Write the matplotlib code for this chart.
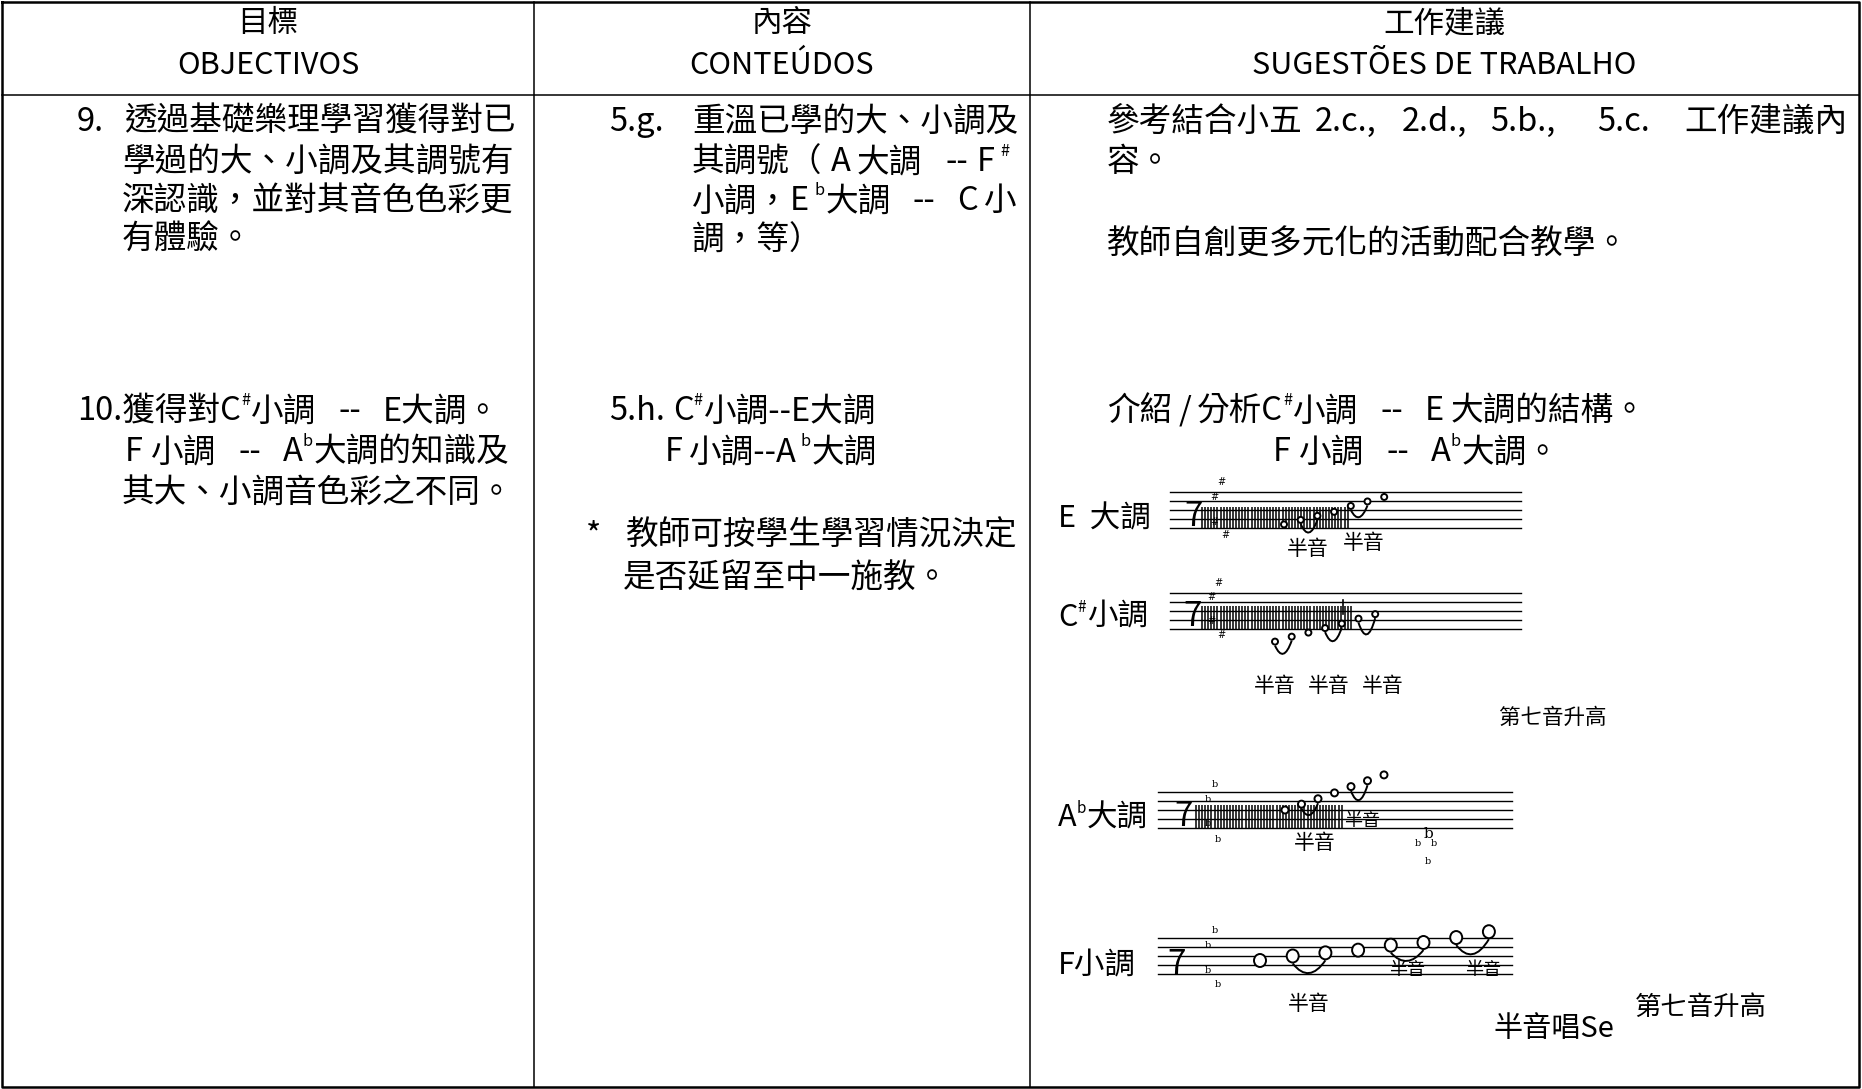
import numpy as np
import matplotlib as mpl
mpl.use('Agg')
import matplotlib.pyplot as plt
from matplotlib.path import Path
from matplotlib.patches import PathPatch, Ellipse

plt.rcParams['font.family'] = ['Noto Sans CJK TC', 'DejaVu Sans']

W, H = 1862, 1089

# ---- text content ----
headers_zh = ['目標', '內容', '工作建議']
headers_pt = ['OBJECTIVOS', 'CONTEÚDOS', 'SUGESTÕES DE TRABALHO']

# parts: plain str, '^x' = superscript, number = gap in px
col1_text = [
    ['9.'], ['透過基礎樂理學習獲得對已'],
    ['學過的大、小調及其調號有'],
    ['深認識，並對其音色色彩更'],
    ['有體驗。'],
    ['10.獲得對C', '^#', '小調', 22, '--', 22, 'E大調。'],
    ['F', 8, '小調', 22, '--', 22, 'A', '^b', '大調的知識及'],
    ['其大、小調音色彩之不同。'],
]
col1_pos = [(77, 122), (124, 122), (122, 162), (122, 201), (122, 240),
            (77, 411), (125, 452), (122, 493)]

col2_text = [
    ['5.g.'], ['重溫已學的大、小調及'],
    ['其調號（', 8, 'A', 6, '大調', 24, '--', 8, 'F', 6, '^#'],
    ['小調，', 'E', 5, '^b', '大調', 22, '--', 22, 'C', 6, '小'],
    ['調，等）'],
    ['5.h.', 8, 'C', '^#', '小調--E大調'],
    ['F', 6, '小調--A', 4, '^b', '大調'],
    ['*'], ['教師可按學生學習情況決定'],
    ['是否延留至中一施教。'],
]
col2_pos = [(609, 122), (692, 122), (692, 162), (692, 201), (692, 240),
            (609, 411), (665, 452), (586, 535), (626, 535), (623, 578)]

col3_text = [
    ['參考結合小五'], ['2.c.,'], ['2.d.,'], ['5.b.,'], ['5.c.'], ['工作建議內'],
    ['容。'],
    ['教師自創更多元化的活動配合教學。'],
    ['介紹', 6, '/', 6, '分析C', '^#', '小調', 22, '--', 22, 'E', 6, '大調的結構。'],
    ['F', 8, '小調', 22, '--', 22, 'A', '^b', '大調。'],
]
col3_pos = [(1107, 122), (1315, 122), (1402, 122), (1490, 122), (1597, 122),
            (1684, 122), (1107, 162), (1107, 245), (1107, 411), (1273, 452)]

# ---- scales (staff steps, 0 = bottom line) ----
scale_labels = [['E  大調'], ['C', '^#', '小調'], ['A', '^b', '大調'], ['F小調']]
e_major_steps = [0.8, 1.8, 2.7, 3.6, 4.9, 5.9, 6.9]
cs_minor_steps = [-2.8, -1.7, -0.8, 0.2, 1.2, 2.3, 3.3]
ab_major_steps = [4.0, 5.3, 6.5, 7.8, 9.2, 10.5, 11.8]
f_minor_steps = [3.0, 4.0, 4.7, 5.3, 6.4, 7.0, 8.1, 9.4]

e_major_semitones = [(1, 2), (4, 5)]
cs_minor_semitones = [(0, 1), (3, 4), (5, 6)]
ab_major_semitones = [(1, 2), (4, 5)]
f_minor_semitones = [(1, 2), (4, 5), (6, 7)]

e_sharps = [10.2, 6.8, 1.3, -1.6]
cs_sharps = [10.3, 7.1, 1.8, -1.4]
ab_flats = [9.6, 6.4, 0.9, -2.5]
f_flats = [9.6, 6.4, 0.7, -2.4]

notes_text = ['半音', '半音', '半音', '半音', '半音', '第七音升高',
              '半音', '半音', '半音', '半音', '半音', '半音唱Se', '第七音升高']
notes_pos = [(1308, 549), (1364, 543), (1275, 686), (1329, 686), (1383, 686),
             (1553, 718), (1315, 843), (1362, 821), (1407, 970), (1483, 970),
             (1309, 1004), (1554, 1029), (1701, 1007)]
notes_size = [15, 15, 15, 15, 15, 15.5, 15, 13, 13, 13, 15, 21, 19]

# ---- layout for each staff ----
staves = [
    dict(steps=e_major_steps, semis=e_major_semitones, acc=e_sharps, sym='#',
         top=492, x0=1170, x1=1521, nx0=1284, ndx=16.7, nw=6, nh=6,
         hatch=(1202, 1350, 4.7), seven=(1194, 516),
         acc_x=[1221, 1214, 1214, 1225], low=[-1.0, 2.4], label_y=519),
    dict(steps=cs_minor_steps, semis=cs_minor_semitones, acc=cs_sharps, sym='#',
         top=593, x0=1170, x1=1521, nx0=1275, ndx=16.7, nw=6, nh=6,
         hatch=(1202, 1353, 5.2), seven=(1193, 616),
         acc_x=[1218, 1211, 1211, 1221], low=[-5.5, -2.7, -1.2], label_y=617),
    dict(steps=ab_major_steps, semis=ab_major_semitones, acc=ab_flats, sym='b',
         top=792, x0=1158, x1=1512, nx0=1285, ndx=16.5, nw=7, nh=7,
         hatch=(1196, 1343, 5.2), seven=(1184, 817),
         acc_x=[1215, 1208, 1208, 1218], low=[2.9, 6.2], label_y=818),
    dict(steps=f_minor_steps, semis=f_minor_semitones, acc=f_flats, sym='b',
         top=938, x0=1158, x1=1512, nx0=1260, ndx=32.7, nw=12, nh=13,
         hatch=None, seven=(1177, 964),
         acc_x=[1215, 1208, 1208, 1218], low=[0.2, 2.9, 4.4], label_y=966),
]
SP = 9.0  # staff line spacing px

fig = plt.figure(figsize=(W / 100, H / 100), dpi=100)
ax = fig.add_axes([0, 0, 1, 1])
ax.set_xlim(0, W)
ax.set_ylim(H, 0)
ax.axis('off')
renderer = fig.canvas.get_renderer()


def put_line(x, y, parts, size=23.5, **kw):
    for p in parts:
        if isinstance(p, (int, float)):
            x += p
            continue
        sup = p.startswith('^')
        s = p[1:] if sup else p
        fs = size * 0.5 if sup else size
        yy = y - size * 0.45 if sup else y
        t = ax.text(x, yy, s, fontsize=fs, ha='left', va='center', **kw)
        x += t.get_window_extent(renderer).width + (1 if sup else 0)


# table
col_edges = [2, 534, 1030, 1859]
ax.plot([2, 1859, 1859, 2, 2], [2, 2, 1087, 1087, 2], color='black', lw=1.8)
ax.plot([2, 1859], [95, 95], color='black', lw=1.1)
for xe in col_edges[1:-1]:
    ax.plot([xe, xe], [2, 1087], color='black', lw=1.1)

for i in range(3):
    cx = (col_edges[i] + col_edges[i + 1]) / 2
    ax.text(cx, 24, headers_zh[i], fontsize=22, ha='center', va='center')
    ax.text(cx, 66, headers_pt[i], fontsize=22, ha='center', va='center')

for texts, poss in [(col1_text, col1_pos), (col2_text, col2_pos), (col3_text, col3_pos)]:
    for parts, (x, y) in zip(texts, poss):
        put_line(x, y, parts)

# staves
for st, lab in zip(staves, scale_labels):
    put_line(1058, st['label_y'], lab, size=22)
    bottom = st['top'] + 4 * SP
    for k in range(5):
        yl = st['top'] + k * SP
        ax.plot([st['x0'], st['x1']], [yl, yl], color='black', lw=1.0)
    ax.text(st['seven'][0], st['seven'][1], '7', fontsize=24, ha='center', va='center')
    if st['hatch']:
        hx0, hx1, hstep = st['hatch']
        ax.vlines(np.arange(hx0, hx1, 3.1), bottom - hstep * SP / 2, bottom,
                  color='black', lw=1.1)
    fam = 'DejaVu Sans' if st['sym'] == '#' else 'DejaVu Serif'
    for ax_x, s in zip(st['acc_x'], st['acc']):
        ax.text(ax_x, bottom - s * SP / 2, st['sym'], fontsize=7, family=fam,
                ha='center', va='center')
    xs = [st['nx0'] + i * st['ndx'] for i in range(len(st['steps']))]
    ys = [bottom - s * SP / 2 for s in st['steps']]
    for x, y in zip(xs, ys):
        ax.add_patch(Ellipse((x, y), st['nw'], st['nh'], fc='white',
                             ec='black', lw=1.4, zorder=3))
    for (i, j), lo in zip(st['semis'], st['low']):
        y0 = ys[i] + st['nh'] / 2 + 1
        y2 = ys[j] + st['nh'] / 2 + 1
        yb = bottom - lo * SP / 2
        yc = 2 * yb - (y0 + y2) / 2
        path = Path([(xs[i], y0), ((xs[i] + xs[j]) / 2, yc), (xs[j], y2)],
                    [Path.MOVETO, Path.CURVE3, Path.CURVE3])
        ax.add_patch(PathPatch(path, fill=False, ec='black', lw=1.4))

# natural-like stem in C# minor
ax.plot([1343, 1343], [600, 614], color='black', lw=1.2)
# extra flats under A-flat staff
ax.text(1428, 834, 'b', fontsize=11, family='DejaVu Serif', ha='center', va='center')
for bx, by in [(1418, 844), (1434, 844), (1428, 861)]:
    ax.text(bx, by, 'b', fontsize=7, family='DejaVu Serif', ha='center', va='center')

for s, (x, y), fs in zip(notes_text, notes_pos, notes_size):
    ax.text(x, y, s, fontsize=fs, ha='center', va='center')

fig.savefig('out.png', dpi=100, facecolor='white')
